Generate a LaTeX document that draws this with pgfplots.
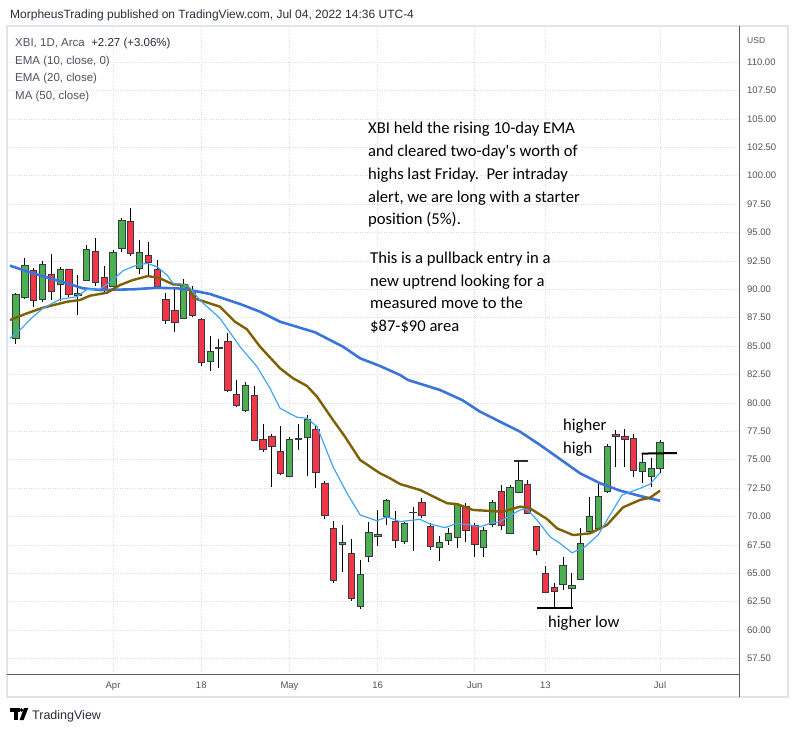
\documentclass[border=0pt]{standalone}
\usepackage{fontspec}
\setmainfont{Liberation Sans}
\newfontfamily\notefont{Carlito}
\usepackage{pgfplots}
\pgfplotsset{compat=1.18}

\definecolor{tvgreen}{HTML}{4CAF50}
\definecolor{tvred}{HTML}{F23645}
\definecolor{tvedge}{HTML}{363A45}
\definecolor{emafast}{HTML}{42A5F5}
\definecolor{emaslow}{HTML}{7F6000}
\definecolor{smaline}{HTML}{3B75DA}
\definecolor{framegray}{HTML}{E0E3EB}
\definecolor{scaleline}{HTML}{5A5D66}
\definecolor{labelgray}{HTML}{50535E}
\definecolor{gridgray}{HTML}{DADDE4}
\definecolor{headgray}{HTML}{2A2E39}

\newcommand{\axisfont}{\fontsize{9.5pt}{11pt}\selectfont}

\pgfplotsset{
  wick/.style={black, line width=1pt, solid, forget plot},
  body/.style={draw=tvedge, line width=0.8pt, solid, forget plot},
  upcandle/.style={body, fill=tvgreen},
  downcandle/.style={body, fill=tvred},
}

% \candle{day}{open}{high}{low}{close}
\newcommand{\candle}[5]{%
  \pgfmathsetmacro\candleleft{#1-0.36}%
  \pgfmathsetmacro\candleright{#1+0.36}%
  \addplot[wick] coordinates {(#1,#4) (#1,#3)};
  \ifdim #5pt<#2pt
    \addplot[downcandle] coordinates {(\candleleft,#2) (\candleright,#2) (\candleright,#5) (\candleleft,#5)} -- cycle;
  \else
    \addplot[upcandle] coordinates {(\candleleft,#2) (\candleright,#2) (\candleright,#5) (\candleleft,#5)} -- cycle;
  \fi}

\begin{document}
\begin{tikzpicture}
\useasboundingbox (0pt,0pt) rectangle (799pt,731pt);
\fill[white] (0pt,0pt) rectangle (799pt,731pt);

\begin{axis}[
  at={(7pt,57pt)}, anchor=south west,
  scale only axis, width=732pt, height=648pt,
  xmin=-12.02, xmax=70.95, ymin=56.13, ymax=113.17,
  axis line style={draw=none},
  major tick length=0pt,
  ytick={57.5,60,62.5,65,67.5,70,72.5,75,77.5,80,82.5,85,87.5,90,92.5,95,97.5,100,102.5,105,107.5,110},
  yticklabel pos=right,
  /pgf/number format/assume math mode=true,
  yticklabel={\pgfmathprintnumber[fixed,fixed zerofill,precision=2]{\tick}},
  yticklabel style={anchor=west, xshift=8pt, inner sep=0pt, font=\axisfont, text=labelgray},
  xtick={0,10,20,30,41,49,62},
  xticklabels={Apr,18,May,16,Jun,13,Jul},
  xticklabel style={anchor=base, yshift=-14pt, inner sep=0pt, font=\axisfont, text=labelgray},
  grid=major,
  major grid style={dotted, draw=gridgray, line width=0.6pt},
]
% daily candles: day index (0 = Apr 1), open, high, low, close
\candle{-11}{85.68}{89.64}{85.15}{89.55}
\candle{-10}{89.29}{92.72}{89.11}{92.10}
\candle{-9}{91.66}{91.84}{88.46}{89.05}
\candle{-8}{89.14}{92.48}{88.90}{92.19}
\candle{-7}{91.31}{93.10}{89.05}{89.84}
\candle{-6}{90.43}{91.98}{88.99}{91.75}
\candle{-5}{91.75}{91.80}{89.34}{89.55}
\candle{-4}{89.43}{91.25}{87.73}{89.64}
\candle{-3}{90.81}{93.89}{90.72}{93.51}
\candle{-2}{93.36}{94.48}{90.28}{90.63}
\candle{-1}{91.05}{92.04}{89.64}{89.87}
\candle{0}{90.28}{93.45}{90.17}{93.25}
\candle{1}{93.57}{96.27}{93.30}{96.07}
\candle{2}{95.98}{97.18}{92.92}{93.16}
\candle{3}{91.84}{94.33}{91.34}{93.25}
\candle{4}{92.98}{94.16}{91.07}{92.37}
\candle{5}{91.75}{92.57}{90.08}{90.22}
\candle{6}{89.11}{89.64}{86.94}{87.29}
\candle{7}{88.14}{89.99}{86.26}{87.09}
\candle{8}{87.47}{90.90}{87.40}{90.31}
\candle{9}{89.78}{90.31}{87.58}{87.67}
\candle{10}{87.38}{87.49}{83.27}{83.57}
\candle{11}{83.66}{85.88}{82.83}{84.53}
\candle{12}{84.83}{85.59}{83.09}{84.87}
\candle{13}{85.41}{86.12}{80.98}{81.07}
\candle{14}{80.75}{82.01}{79.66}{79.78}
\candle{15}{79.31}{81.81}{79.22}{81.57}
\candle{16}{80.66}{81.48}{76.64}{76.73}
\candle{17}{76.79}{78.14}{75.70}{75.91}
\candle{18}{77.08}{77.23}{72.62}{76.14}
\candle{19}{75.76}{77.96}{73.65}{73.80}
\candle{20}{73.50}{76.97}{73.45}{76.79}
\candle{21}{76.79}{78.14}{75.85}{76.83}
\candle{22}{76.97}{78.93}{73.56}{78.58}
\candle{23}{77.67}{77.99}{72.53}{73.88}
\candle{24}{72.91}{73.12}{69.75}{70.06}
\candle{25}{68.95}{69.60}{64.17}{64.34}
\candle{26}{67.55}{69.25}{65.13}{67.72}
\candle{27}{66.75}{68.01}{62.58}{62.79}
\candle{28}{62.05}{66.16}{61.87}{64.93}
\candle{29}{66.49}{69.48}{65.96}{68.60}
\candle{30}{68.21}{70.57}{67.42}{68.43}
\candle{31}{69.98}{71.53}{69.25}{71.45}
\candle{32}{69.57}{70.48}{67.26}{67.92}
\candle{33}{67.84}{69.54}{67.57}{69.39}
\candle{34}{70.34}{70.86}{66.98}{70.38}
\candle{35}{71.24}{71.60}{69.84}{70.10}
\candle{36}{69.16}{69.44}{67.04}{67.40}
\candle{37}{67.25}{68.28}{66.10}{67.72}
\candle{38}{67.92}{68.95}{67.48}{68.51}
\candle{39}{68.16}{71.21}{67.19}{71.07}
\candle{40}{70.86}{71.21}{67.78}{68.74}
\candle{41}{69.22}{69.44}{66.40}{67.55}
\candle{42}{67.28}{69.10}{66.46}{68.80}
\candle{43}{69.33}{71.45}{69.10}{71.24}
\candle{44}{72.21}{72.76}{68.80}{69.25}
\candle{45}{68.51}{72.76}{68.45}{72.56}
\candle{46}{72.12}{74.88}{72.05}{73.14}
\candle{47}{72.85}{73.21}{70.21}{70.27}
\candle{48}{69.10}{69.16}{66.60}{67.04}
\candle{49}{64.99}{65.64}{63.23}{63.32}
\candle{50}{63.76}{64.11}{62.00}{63.43}
\candle{51}{64.03}{66.45}{63.52}{65.70}
\candle{52}{63.67}{64.99}{62.00}{63.96}
\candle{53}{64.46}{68.95}{64.40}{67.63}
\candle{54}{68.69}{71.74}{68.65}{70.01}
\candle{55}{68.95}{73.09}{68.90}{71.74}
\candle{56}{72.18}{76.37}{72.09}{76.20}
\candle{57}{77.23}{77.61}{74.32}{77.05}
\candle{58}{77.02}{77.69}{74.38}{76.79}
\candle{59}{76.88}{77.26}{73.50}{74.03}
\candle{60}{73.94}{75.56}{72.91}{74.76}
\candle{61}{73.56}{75.12}{72.62}{74.24}
\candle{62}{74.24}{76.73}{73.80}{76.51}

% MA (50, close)
\addplot[smaline, line width=2.6pt, line join=round] coordinates {
(-11.68,92.07) (-9.07,91.40) (-5.22,90.52) (-3.41,90.08) (-1.48,89.93)
(2.26,89.99) (4.98,90.13) (7.25,90.08) (8.72,89.93) (10.99,89.58)
(14.39,88.70) (16.66,88.02) (18.93,87.14) (21.19,86.61) (22.89,86.21)
(24.59,85.53) (26.07,84.94) (28.00,83.92) (30.26,83.24) (32.53,82.45)
(33.43,82.01) (37.06,81.13) (39.56,80.25) (41.60,79.22) (43.86,78.34)
(46.13,77.46) (48.40,76.29) (50.66,75.05) (52.93,73.80) (55.20,72.92)
(57.47,72.27) (59.73,71.80) (62.00,71.38)};

% EMA (20, close)
\addplot[emaslow, line width=2.4pt, line join=round] coordinates {
(-11.68,87.29) (-9.75,87.88) (-7.94,88.37) (-5.22,88.90) (-3.75,89.05)
(-2.61,89.43) (-0.68,89.69) (0.79,90.37) (2.26,90.81) (3.96,91.16)
(5.32,90.96) (6.80,90.43) (8.38,90.37) (9.20,89.20) (12.12,88.46)
(13.82,87.14) (15.18,86.47) (16.66,84.94) (18.93,83.04) (20.40,82.16)
(21.99,81.48) (23.12,80.54) (24.93,78.49) (26.29,77.02) (28.00,74.97)
(30.26,73.80) (31.39,73.36) (32.53,72.85) (34.79,72.33) (37.86,71.16)
(38.99,71.09) (40.80,70.57) (42.73,70.48) (44.20,70.42) (46.13,70.86)
(47.26,70.71) (49.19,69.77) (50.32,68.95) (52.14,68.36) (54.07,68.51)
(55.99,69.25) (57.80,70.80) (59.73,71.45) (60.87,71.65) (62.00,72.27)};

% EMA (10, close, 0)
\addplot[emafast, line width=1.2pt, line join=round] coordinates {
(-11.68,85.68) (-10.55,86.41) (-9.07,87.58) (-7.94,88.32) (-6.01,89.11)
(-4.09,89.34) (-2.95,89.99) (-1.48,90.02) (0.00,90.81) (1.13,91.63)
(2.72,92.13) (3.85,92.28) (4.98,91.98) (6.12,91.25) (6.80,90.52)
(7.93,90.43) (8.72,90.11) (9.86,89.02) (12.12,87.44) (14.39,84.94)
(16.32,83.18) (17.79,81.28) (18.93,79.52) (20.85,78.73) (21.99,78.64)
(23.12,77.90) (24.93,74.38) (26.52,72.04) (28.00,70.13) (29.92,69.62)
(31.05,69.97) (32.53,69.54) (34.79,69.75) (35.93,69.33) (37.63,69.01)
(38.99,69.39) (40.46,69.24) (41.60,69.09) (42.73,69.39) (43.86,69.54)
(44.77,69.97) (46.13,70.57) (46.92,70.63) (48.06,69.68) (49.53,68.21)
(50.66,67.63) (52.02,66.80) (53.50,67.33) (54.97,68.36) (56.33,70.13)
(57.69,71.88) (59.73,72.47) (60.87,72.85) (62.00,73.85)};

% drawn levels
\addplot[headgray, line width=2pt] coordinates {(45.45,74.88) (47.04,74.88)};
\addplot[black, line width=2pt] coordinates {(59.92,75.53) (63.90,75.58)};
\addplot[black, line width=2pt] coordinates {(48.09,61.91) (52.17,61.91)};
\end{axis}

% panel frame and scale lines
\draw[framegray, line width=1.2pt] (7pt,34pt) rectangle (788pt,705pt);
\draw[scaleline, line width=1pt] (7pt,57pt) -- (739pt,57pt);
\draw[scaleline, line width=1pt] (739pt,34pt) -- (739pt,705pt);
\node[anchor=base west, inner sep=0pt, font=\fontsize{8.5pt}{10pt}\selectfont, text=labelgray] at (747pt,687pt) {USD};

% header
\node[anchor=base west, inner sep=0pt, font=\fontsize{12pt}{14pt}\selectfont, text=headgray] at (10pt,712pt)
  {MorpheusTrading published on TradingView.com, Jul 04, 2022 14:36 UTC-4};

% series legend
\begin{scope}[every node/.style={anchor=base west, inner sep=0pt, font=\fontsize{11.5pt}{13pt}\selectfont, text=labelgray}]
\node at (15pt,684pt) {XBI, 1D, Arca\ \ \textcolor{headgray}{+2.27 (+3.06\%)}};
\node at (15pt,666.5pt) {EMA (10, close, 0)};
\node at (15pt,649pt) {EMA (20, close)};
\node at (15pt,631.5pt) {MA (50, close)};
\end{scope}

% notes
\begin{scope}[every node/.style={anchor=base west, inner sep=0pt, font=\notefont\fontsize{16.6pt}{19pt}\selectfont, text=black}]
\node at (368pt,597.5pt) {XBI held the rising 10-day EMA};
\node at (368pt,574.5pt) {and cleared two-day's worth of};
\node at (368pt,551.5pt) {highs last Friday.\ \ Per intraday};
\node at (368pt,528.5pt) {alert, we are long with a starter};
\node at (368pt,506.5pt) {position (5\%).};
\node at (370pt,467.5pt) {This is a pullback entry in a};
\node at (370pt,444.5pt) {new uptrend looking for a};
\node at (370pt,422.5pt) {measured move to the};
\node at (370pt,399.5pt) {\$87-\$90 area};
\node at (563pt,300pt) {higher};
\node at (563pt,277pt) {high};
\node at (548pt,104pt) {higher low};
\end{scope}

% footer logo and name
\fill[black] (10pt,19.5pt) rectangle (19.5pt,23pt);
\fill[black] (14pt,11pt) rectangle (17.5pt,23pt);
\fill[black] (21.6pt,21pt) circle (1.9pt);
\fill[black] (24pt,23pt) -- (28.3pt,23pt) -- (23.6pt,11pt) -- (19.6pt,11pt) -- cycle;
\node[anchor=base west, inner sep=0pt, font=\fontsize{12.5pt}{14pt}\selectfont, text=headgray] at (32pt,12pt) {TradingView};
\end{tikzpicture}
\end{document}
